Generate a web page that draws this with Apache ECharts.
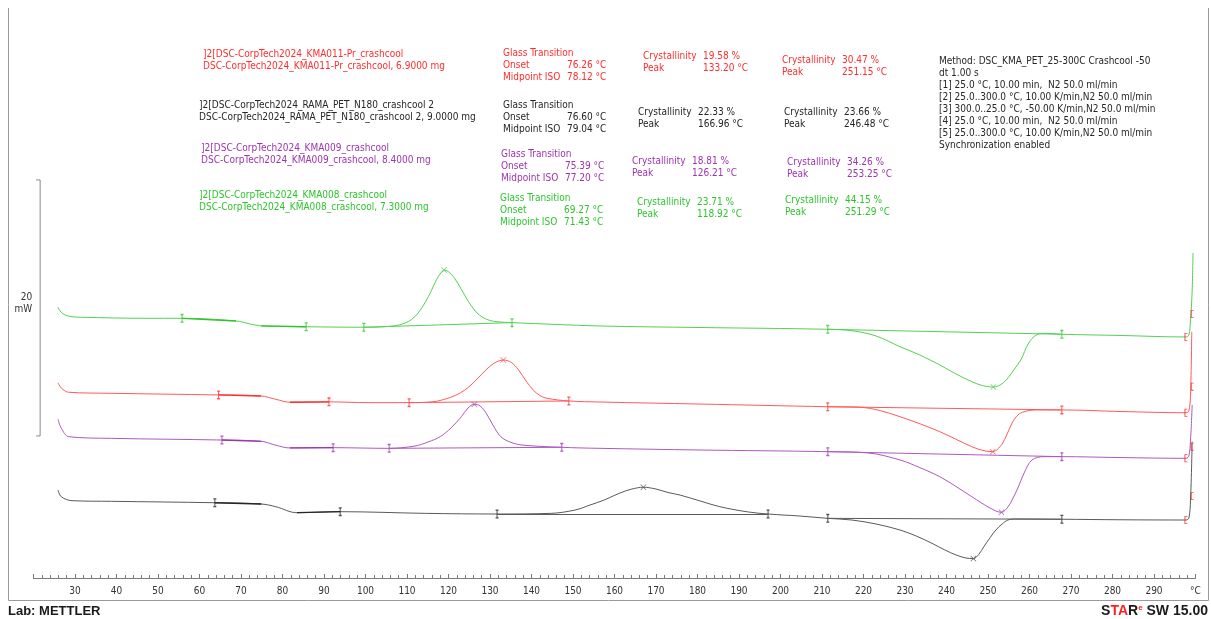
<!DOCTYPE html>
<html>
<head>
<meta charset="utf-8">
<title>DSC crashcool PET</title>
<script src="https://cdn.jsdelivr.net/npm/echarts@6/dist/echarts.min.js"></script>
<style>
  html, body { margin: 0; padding: 0; background: #fff; }
  #chart { width: 1211px; height: 619px; }
</style>
</head>
<body>
<div id="chart"></div>
<script>
// temperature axis, °C
const tempMin = 20;
const tempMax = 300;
const tempStep = 10;

// heat flow traces [°C, mW] as they sit on the page (each trace offset)
const redCurve = [
  [25.9, 15.26], [26.7, 14.84], [28.5, 14.51], [38.7, 14.43], [64.6, 14.30], [74.8, 14.22],
  [78.4, 13.96], [81.8, 13.73], [91.2, 13.76], [100.8, 13.70], [110.5, 13.70], [116.3, 13.77],
  [120.4, 14.10], [122.8, 14.45], [124.8, 14.90], [126.9, 15.55], [129.0, 16.25], [131.0, 16.78],
  [133.2, 17.03], [135.1, 16.85], [136.9, 16.25], [138.7, 15.39], [140.4, 14.69], [142.0, 14.26],
  [143.7, 14.04], [149.0, 13.83], [156.5, 13.75], [180.6, 13.59], [211.4, 13.38], [219.2, 13.34],
  [224.0, 13.08], [228.8, 12.60], [233.6, 12.05], [238.4, 11.43], [242.2, 10.85], [246.1, 10.26],
  [248.8, 9.96], [251.15, 9.87], [252.9, 10.26], [254.3, 11.02], [255.8, 12.11], [257.2, 12.73],
  [258.7, 12.99], [261.6, 13.13], [267.8, 13.13], [281.8, 13.01], [297.7, 12.91], [298.4, 13.05],
  [298.8, 14.30], [299.1, 19.24]
];
const blackCurve = [
  [25.9, 6.88], [26.7, 6.35], [29.3, 6.04], [38.8, 5.99], [63.7, 5.88], [74.9, 5.78],
  [78.4, 5.57], [83.5, 5.10], [93.9, 5.18], [114.5, 5.05], [131.7, 5.00], [144.6, 5.05],
  [150.5, 5.31], [154.1, 5.70], [157.5, 6.09], [161.3, 6.64], [164.2, 6.95], [166.96, 7.09],
  [170.0, 6.95], [172.9, 6.68], [175.8, 6.48], [180.6, 6.02], [185.4, 5.57], [192.2, 5.16],
  [197.0, 5.00], [204.7, 4.84], [211.4, 4.66], [217.2, 4.53], [223.0, 4.22], [228.8, 3.75],
  [232.7, 3.28], [236.5, 2.71], [239.6, 2.19], [242.3, 1.80], [244.7, 1.56], [246.48, 1.52],
  [247.8, 1.85], [249.0, 2.45], [250.5, 3.15], [251.9, 3.75], [253.4, 4.22], [254.8, 4.53],
  [256.7, 4.61], [267.8, 4.59], [281.8, 4.55], [297.7, 4.53], [298.4, 4.69], [298.8, 6.09],
  [299.2, 10.65]
];
const purpleCurve = [
  [25.9, 12.40], [26.7, 11.70], [28.5, 11.04], [38.8, 10.91], [65.4, 10.78], [74.9, 10.68],
  [78.4, 10.37], [81.8, 10.16], [92.2, 10.18], [105.7, 10.13], [111.9, 10.31], [115.1, 10.63],
  [118.0, 11.04], [120.6, 11.72], [123.1, 12.60], [124.7, 13.28], [126.21, 13.57], [127.6, 13.44],
  [129.1, 12.87], [130.7, 11.95], [132.6, 11.04], [134.8, 10.63], [137.7, 10.39], [147.3, 10.21],
  [156.5, 10.13], [180.6, 10.00], [211.4, 9.87], [221.1, 9.77], [228.8, 9.22], [233.6, 8.62],
  [238.4, 7.91], [242.3, 7.15], [246.1, 6.35], [250.5, 5.47], [253.25, 5.13], [254.8, 5.55],
  [255.8, 6.09], [257.2, 7.03], [258.7, 8.20], [260.6, 9.22], [263.5, 9.48], [267.8, 9.48],
  [281.8, 9.41], [297.7, 9.35], [298.4, 9.53], [298.8, 10.78], [299.2, 13.52]
];
const greenCurve = [
  [25.9, 21.15], [26.6, 20.78], [27.6, 20.55], [29.3, 20.41], [31.4, 20.37], [47.3, 20.29],
  [55.8, 20.29], [68.8, 20.08], [72.3, 19.84], [74.9, 19.69], [85.7, 19.63], [99.6, 19.59],
  [106.8, 19.69], [109.5, 19.92], [111.1, 20.20], [112.7, 20.70], [114.5, 21.60], [115.8, 22.40],
  [117.1, 23.30], [118.2, 23.85], [118.92, 24.06], [119.9, 23.95], [121.4, 23.45], [123.0, 22.60],
  [124.8, 21.60], [126.6, 20.80], [128.3, 20.35], [130.0, 20.12], [131.7, 20.02], [135.3, 19.95],
  [156.5, 19.69], [180.6, 19.57], [211.4, 19.43], [217.2, 19.32], [223.0, 18.91], [228.8, 18.07],
  [233.6, 17.42], [238.4, 16.64], [242.3, 15.94], [246.1, 15.34], [248.6, 15.04], [251.29, 14.92],
  [252.9, 15.08], [254.4, 15.47], [256.2, 16.25], [257.9, 17.03], [259.8, 18.36], [261.6, 18.98],
  [263.5, 19.12], [267.8, 19.04], [281.8, 18.95], [297.7, 18.83], [298.4, 18.98], [298.8, 20.16],
  [299.2, 22.5], [299.4, 25.39]
];

// evaluation limits on each trace, °C (Tg pair, cold crystallisation pair, melting pair)
const redLimits = [64.6, 91.2, 110.5, 149.0, 211.4, 267.8];
const blackLimits = [63.7, 93.9, 131.7, 197.0, 211.4, 267.8];
const purpleLimits = [65.4, 92.2, 105.7, 147.3, 211.4, 267.8];
const greenLimits = [55.8, 85.7, 99.6, 135.3, 211.4, 267.8];
// where the glass step begins and ends on each trace, °C
const tgStepStart = [74.8, 74.9, 74.9, 68.8];
const tgStepEnd = [81.8, 83.5, 81.8, 74.9];
const segmentEnd = 297.7;
const segmentMark = 299.2;
const segmentMarkLevel = [14.95, 6.41, 10.26, 20.63];

// sample table, order: KMA011 (red), RAMA (black), KMA009 (purple), KMA008 (green)
const sampleFiles = ['KMA011-Pr_crashcool', 'RAMA_PET_N180_crashcool 2', 'KMA009_crashcool', 'KMA008_crashcool'];
const sampleMass = ['6.9000', '9.0000', '8.4000', '7.3000'];
const tgOnset = ['76.26', '76.60', '75.39', '69.27'];
const tgMidpoint = ['78.12', '79.04', '77.20', '71.43'];
const coldCryst = ['19.58', '22.33', '18.81', '23.71'];
const coldPeak = ['133.20', '166.96', '126.21', '118.92'];
const meltCryst = ['30.47', '23.66', '34.26', '44.15'];
const meltPeak = ['251.15', '246.48', '253.25', '251.29'];

const methodLines = [
  'Method: DSC_KMA_PET_25-300C Crashcool -50',
  'dt 1.00 s',
  '[1] 25.0 °C, 10.00 min,  N2 50.0 ml/min',
  '[2] 25.0..300.0 °C, 10.00 K/min,N2 50.0 ml/min',
  '[3] 300.0..25.0 °C, -50.00 K/min,N2 50.0 ml/min',
  '[4] 25.0 °C, 10.00 min,  N2 50.0 ml/min',
  '[5] 25.0..300.0 °C, 10.00 K/min,N2 50.0 ml/min',
  'Synchronization enabled'
];

// 20 mW scale bar: [°C, bottom mW, top mW]
const scaleBar = [[21.6, 11.1, 31.1]];

const curves = [redCurve, blackCurve, purpleCurve, greenCurve];
const limits = [redLimits, blackLimits, purpleLimits, greenLimits];
const textColors = ['#ff2d2d', '#262626', '#9c35ad', '#2fc42f'];
const lineColors = ['#ff5a5a', '#5a5a5a', '#ad5abf', '#55d055'];
const font = '"DejaVu Sans Condensed", "DejaVu Sans", sans-serif';

const limitPath = 'path://M0,0 L3,0 L3,1.5 L2,1.5 L2,8.5 L3,8.5 L3,10 L0,10 L0,8.5 L1,8.5 L1,1.5 L0,1.5 Z';
const openPath = 'path://M0,0 L3,0 L3,1 L1,1 L1,9 L3,9 L3,10 L0,10 Z';
const crossPath = 'path://M0,1 L1,0 L5,4 L9,0 L10,1 L6,5 L10,9 L9,10 L5,6 L1,10 L0,9 L4,5 Z';

function valueAt(curve, t) {
  for (let i = 0; i < curve.length - 1; i++) {
    const a = curve[i], b = curve[i + 1];
    if (t >= a[0] && t <= b[0]) {
      return a[1] + (b[1] - a[1]) * (t - a[0]) / (b[0] - a[0]);
    }
  }
  return curve[curve.length - 1][1];
}

const series = [];
curves.forEach((curve, i) => {
  const lim = limits[i];
  const pt = t => [t, valueAt(curve, t)];
  series.push({
    type: 'line',
    data: curve,
    showSymbol: false,
    smooth: 0.35,
    silent: true,
    z: 3,
    lineStyle: { color: lineColors[i], width: 1 },
    markLine: {
      silent: true,
      symbol: 'none',
      animation: false,
      label: { show: false },
      lineStyle: { color: lineColors[i], width: 1, type: 'solid' },
      data: [
        [{ coord: pt(lim[2]) }, { coord: pt(lim[3]) }],
        [{ coord: pt(lim[4]) }, { coord: pt(lim[5]) }],
        // tangents used for the glass transition, drawn darker
        [{ coord: pt(lim[0]), lineStyle: { color: textColors[i], width: 1.3 } }, { coord: pt(tgStepStart[i]) }],
        [{ coord: pt(tgStepEnd[i]), lineStyle: { color: textColors[i], width: 1.3 } }, { coord: pt(lim[1]) }]
      ]
    }
  });
  series.push({
    type: 'scatter',
    silent: true,
    z: 4,
    symbol: limitPath,
    symbolSize: [3, 9],
    itemStyle: { color: textColors[i] },
    data: lim.map(pt)
  });
  series.push({
    type: 'scatter',
    silent: true,
    z: 4,
    symbol: crossPath,
    symbolSize: 6,
    itemStyle: { color: lineColors[i] },
    data: [pt(+coldPeak[i]), pt(+meltPeak[i])]
  });
  series.push({
    type: 'scatter',
    silent: true,
    z: 4,
    symbol: openPath,
    symbolSize: [3, 8],
    itemStyle: { color: '#ff2020' },
    data: [pt(segmentEnd), [segmentMark, segmentMarkLevel[i]]]
  });
});

series.push({
  type: 'custom',
  silent: true,
  data: scaleBar,
  renderItem(params, api) {
    const top = api.coord([api.value(0), api.value(2)]);
    const bot = api.coord([api.value(0), api.value(1)]);
    return {
      type: 'group',
      children: [
        {
          type: 'polyline',
          shape: { points: [[top[0] - 4, top[1]], [top[0], top[1]], [bot[0], bot[1]], [bot[0] - 4, bot[1]]] },
          style: { stroke: '#8a8a8a', fill: null, lineWidth: 1 }
        },
        {
          type: 'text',
          x: top[0] - 8,
          y: (top[1] + bot[1]) / 2 - 5,
          style: { text: '20\nmW', align: 'right', verticalAlign: 'middle', fill: '#333', font: '10px ' + font, lineHeight: 12 }
        }
      ]
    };
  }
});

// annotation blocks
const graphic = [
  {
    type: 'polyline',
    silent: true,
    shape: { points: [[8.5, 8], [8.5, 600.5], [1208.5, 600.5], [1208.5, 8]] },
    style: { stroke: '#9a9a9a', fill: null, lineWidth: 1 }
  }
];
function addText(x, y, text, color) {
  graphic.push({
    type: 'text',
    silent: true,
    x: x,
    y: y,
    style: { text: text, fill: color, font: '10px ' + font, verticalAlign: 'middle' }
  });
}
const nameX = [203, 199, 201, 199], nameY = [54, 105, 148, 195];
const tgX = [503, 503, 501, 500], tgY = [53, 105, 154, 198];
const c1X = [643, 638, 632, 637], c1Y = [56, 112, 161, 202];
const c2X = [782, 784, 787, 785], c2Y = [60, 112, 162, 200];
sampleFiles.forEach((f, i) => {
  const c = textColors[i];
  addText(nameX[i], nameY[i], ']2[DSC-CorpTech2024_' + f, c);
  addText(nameX[i], nameY[i] + 12, 'DSC-CorpTech2024_' + f + ', ' + sampleMass[i] + ' mg', c);
  addText(tgX[i], tgY[i], 'Glass Transition', c);
  addText(tgX[i], tgY[i] + 12, 'Onset', c);
  addText(tgX[i] + 64, tgY[i] + 12, tgOnset[i] + ' °C', c);
  addText(tgX[i], tgY[i] + 24, 'Midpoint ISO', c);
  addText(tgX[i] + 64, tgY[i] + 24, tgMidpoint[i] + ' °C', c);
  addText(c1X[i], c1Y[i], 'Crystallinity', c);
  addText(c1X[i] + 60, c1Y[i], coldCryst[i] + ' %', c);
  addText(c1X[i], c1Y[i] + 12, 'Peak', c);
  addText(c1X[i] + 60, c1Y[i] + 12, coldPeak[i] + ' °C', c);
  addText(c2X[i], c2Y[i], 'Crystallinity', c);
  addText(c2X[i] + 60, c2Y[i], meltCryst[i] + ' %', c);
  addText(c2X[i], c2Y[i] + 12, 'Peak', c);
  addText(c2X[i] + 60, c2Y[i] + 12, meltPeak[i] + ' °C', c);
});
methodLines.forEach((line, i) => addText(939, 61 + i * 12, line, '#262626'));

graphic.push({
  type: 'text',
  silent: true,
  x: 8,
  y: 611,
  style: { text: 'Lab: METTLER', fill: '#1a1a1a', font: 'bold 13px "Liberation Sans", Arial, sans-serif', verticalAlign: 'middle' }
});
graphic.push({
  type: 'text',
  silent: true,
  x: 1208,
  y: 611,
  style: {
    text: '{k|S}{r|TA}{k|R}{e|e}{k| SW 15.00}',
    align: 'right',
    verticalAlign: 'middle',
    rich: {
      k: { fill: '#1a1a1a', font: 'bold 14px "Liberation Sans", Arial, sans-serif' },
      r: { fill: '#ff2020', font: 'bold 14px "Liberation Sans", Arial, sans-serif' },
      e: { fill: '#ff2020', font: 'bold 8px "Liberation Sans", Arial, sans-serif', verticalAlign: 'top', padding: [0, 0, 6, 0] }
    }
  }
});

const chart = echarts.init(document.getElementById('chart'));
chart.setOption({
  animation: false,
  backgroundColor: '#fff',
  grid: { left: 33.5, right: 15.5, top: 2, bottom: 41 },
  xAxis: {
    type: 'value',
    min: tempMin,
    max: tempMax,
    interval: tempStep,
    axisLine: { lineStyle: { color: '#7a7a7a', width: 1 } },
    axisTick: { inside: true, length: 4, lineStyle: { color: '#7a7a7a' } },
    minorTick: { show: true, splitNumber: 5, length: 3, lineStyle: { color: '#7a7a7a' } },
    splitLine: { show: false },
    axisLabel: {
      margin: 8,
      color: '#333',
      fontSize: 10,
      fontFamily: font,
      formatter: v => (v === tempMax ? '°C' : v === tempMin ? '' : String(v))
    }
  },
  yAxis: { type: 'value', min: 0, max: 45, show: false },
  graphic: graphic,
  series: series
});
</script>
</body>
</html>
